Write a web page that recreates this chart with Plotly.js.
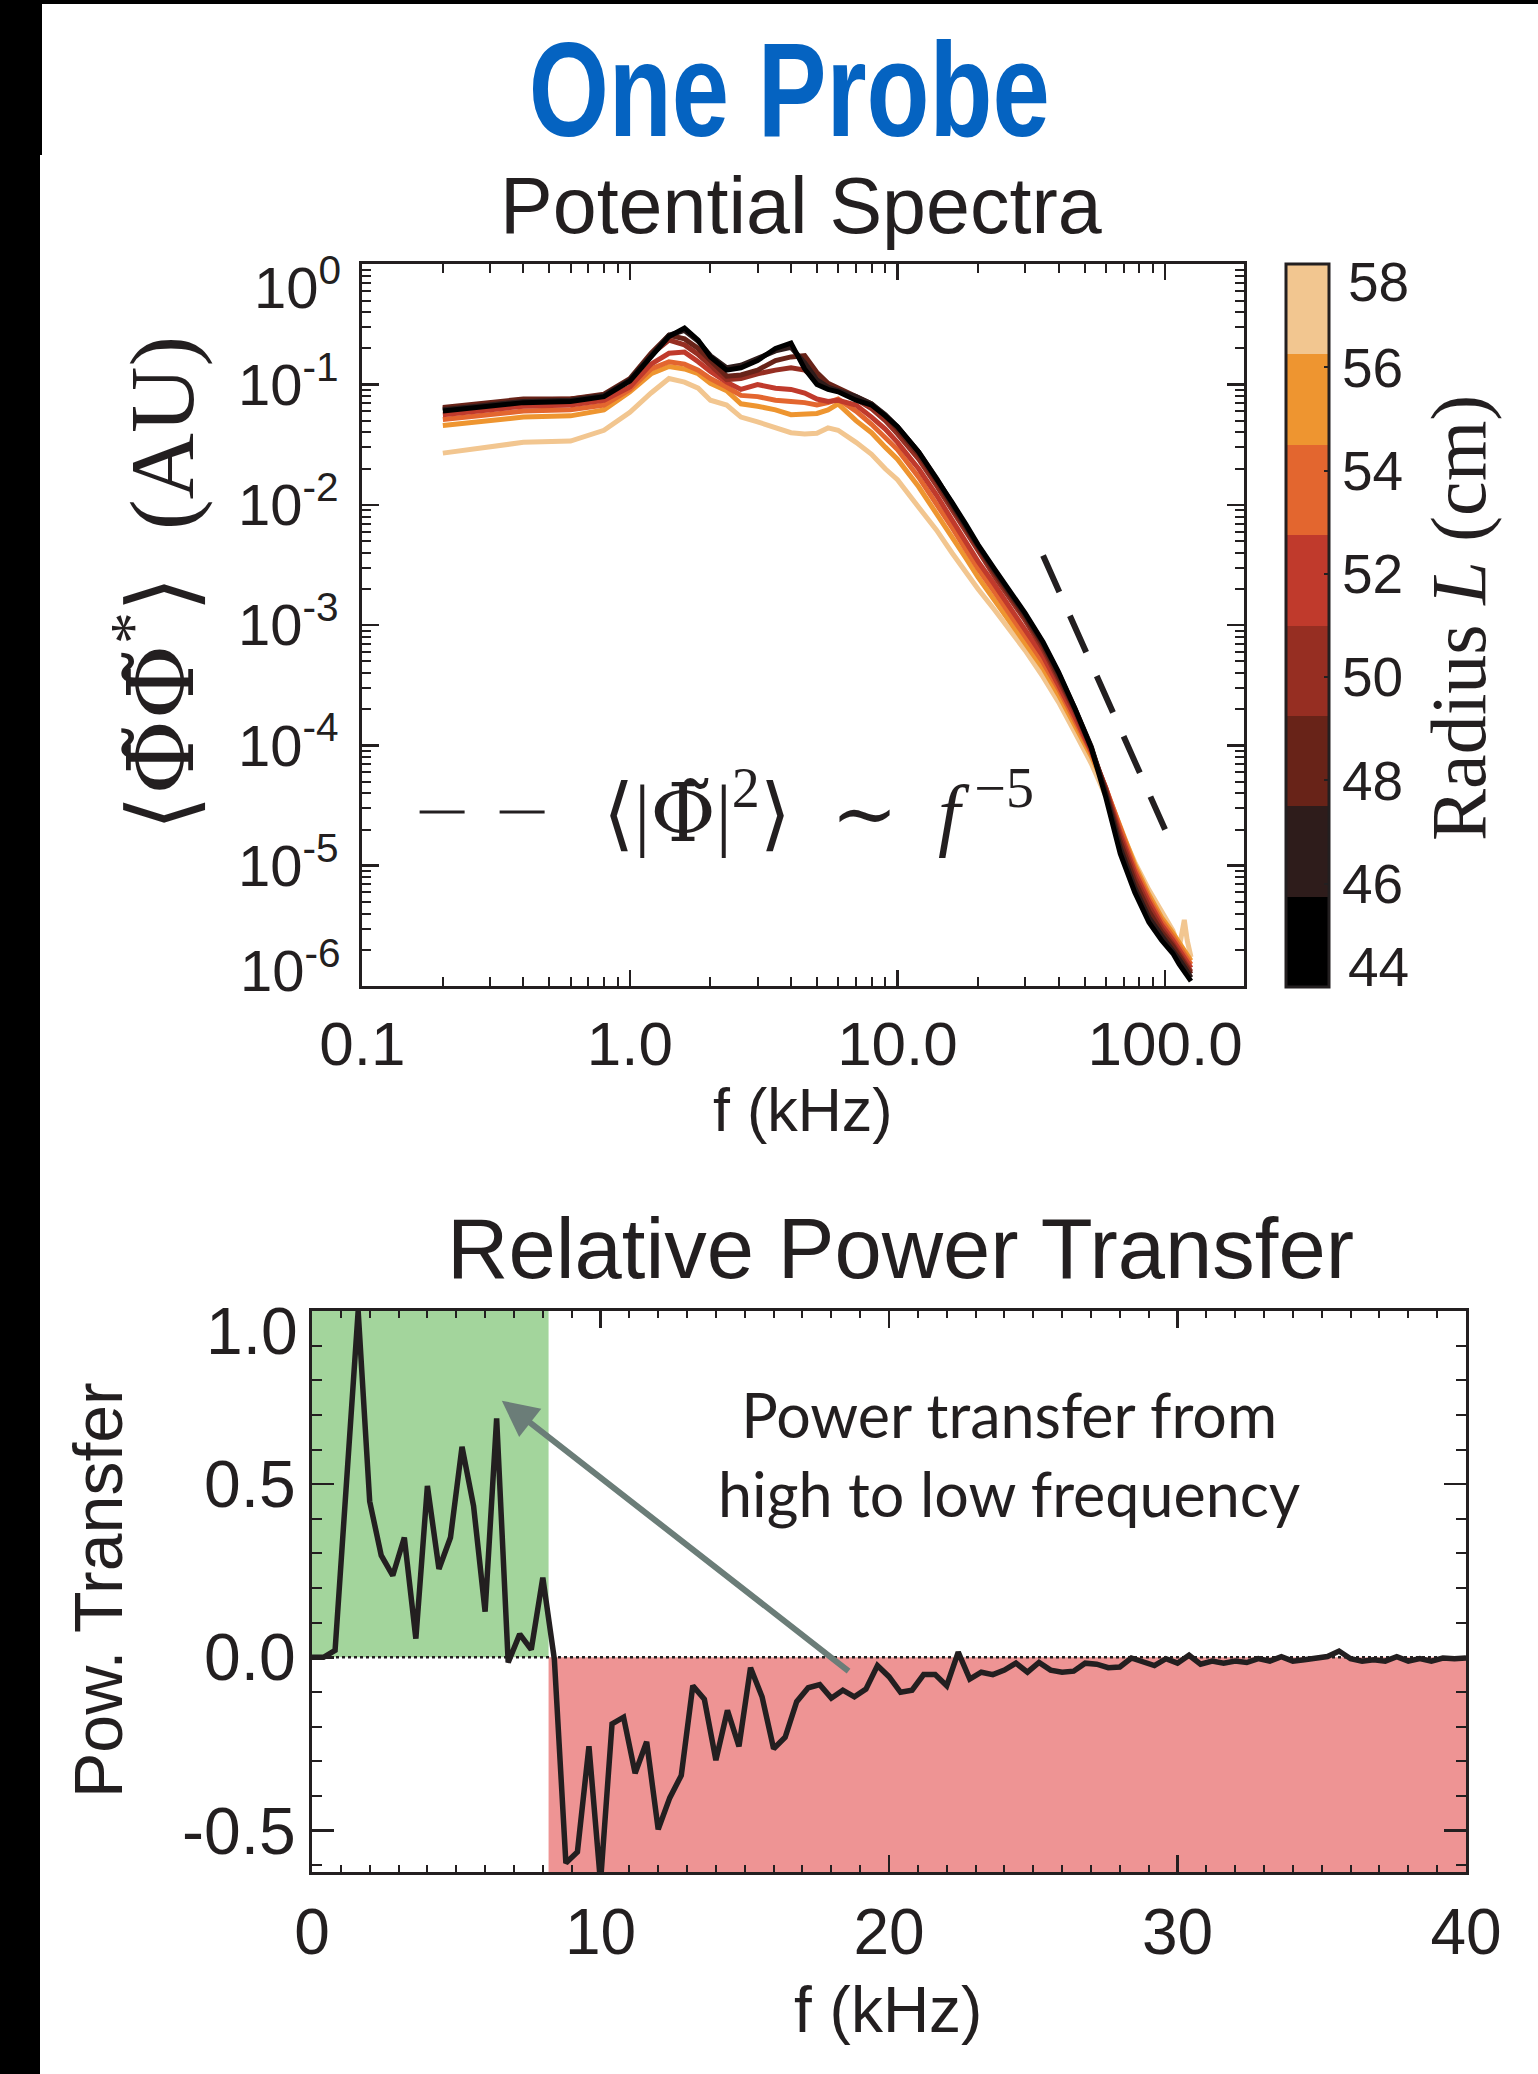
<!DOCTYPE html>
<html><head><meta charset="utf-8">
<script src="https://cdn.plot.ly/plotly-3.0.1.min.js"></script>
<style>html,body{margin:0;padding:0;background:#fff;overflow:hidden}#chart{width:1538px;height:2074px}</style>
</head><body><div id="chart"></div>
<script>
// ---------- DATA ----------
// Potential spectra: frequency grid (kHz)
const freqKHz = [0.2, 0.4, 0.6, 0.8, 1.0, 1.2, 1.4, 1.6, 1.8, 2.0, 2.3, 2.6, 3.0, 3.5, 4.0, 4.5, 5.0, 5.5, 6.0, 7.0, 8.0, 9.0, 10, 12, 14, 16, 18, 20, 23, 26, 30, 35, 40, 46, 53, 60, 68, 77, 87, 97, 107, 113, 118, 121, 125];
// log10 of spectral power (AU) for each radius L (cm)
const log10Power44 = [-1.22,-1.15,-1.14,-1.10,-0.97,-0.77,-0.60,-0.53,-0.63,-0.77,-0.88,-0.86,-0.80,-0.70,-0.655,-0.87,-1.00,-1.04,-1.06,-1.13,-1.17,-1.26,-1.35,-1.56,-1.78,-1.98,-2.16,-2.33,-2.53,-2.70,-2.90,-3.14,-3.39,-3.69,-4.02,-4.43,-4.90,-5.22,-5.47,-5.62,-5.73,-5.82,-5.88,-5.92,-5.96];
const log10Power46 = [-1.21,-1.14,-1.13,-1.09,-0.96,-0.76,-0.59,-0.55,-0.64,-0.76,-0.86,-0.84,-0.78,-0.72,-0.69,-0.82,-0.96,-1.02,-1.05,-1.10,-1.16,-1.25,-1.35,-1.56,-1.78,-1.99,-2.17,-2.34,-2.54,-2.71,-2.91,-3.15,-3.40,-3.69,-4.01,-4.40,-4.85,-5.18,-5.43,-5.58,-5.70,-5.78,-5.84,-5.88,-5.93];
const log10Power48 = [-1.19,-1.12,-1.12,-1.08,-0.95,-0.74,-0.59,-0.62,-0.70,-0.80,-0.93,-0.92,-0.88,-0.80,-0.77,-0.76,-0.90,-0.99,-1.03,-1.09,-1.16,-1.26,-1.37,-1.58,-1.80,-2.01,-2.19,-2.36,-2.56,-2.73,-2.93,-3.17,-3.42,-3.70,-4.02,-4.38,-4.80,-5.13,-5.38,-5.55,-5.67,-5.75,-5.81,-5.85,-5.90];
const log10Power50 = [-1.20,-1.13,-1.12,-1.09,-0.96,-0.75,-0.63,-0.67,-0.75,-0.84,-0.96,-0.95,-0.91,-0.88,-0.86,-0.88,-0.96,-1.02,-1.045,-1.12,-1.20,-1.30,-1.41,-1.62,-1.84,-2.04,-2.22,-2.39,-2.59,-2.76,-2.96,-3.20,-3.45,-3.72,-4.03,-4.36,-4.76,-5.09,-5.34,-5.52,-5.65,-5.73,-5.79,-5.83,-5.88];
const log10Power52 = [-1.25,-1.18,-1.17,-1.13,-1.02,-0.83,-0.74,-0.73,-0.81,-0.89,-0.98,-1.04,-1.00,-1.03,-1.04,-1.07,-1.12,-1.14,-1.13,-1.17,-1.27,-1.37,-1.48,-1.70,-1.92,-2.12,-2.30,-2.47,-2.66,-2.83,-3.03,-3.26,-3.50,-3.76,-4.05,-4.35,-4.73,-5.05,-5.30,-5.49,-5.62,-5.70,-5.76,-5.80,-5.85];
const log10Power54 = [-1.29,-1.22,-1.21,-1.17,-1.04,-0.87,-0.81,-0.83,-0.88,-0.95,-1.02,-1.09,-1.10,-1.13,-1.14,-1.15,-1.17,-1.15,-1.12,-1.22,-1.33,-1.44,-1.54,-1.77,-1.99,-2.19,-2.37,-2.53,-2.72,-2.89,-3.08,-3.31,-3.53,-3.79,-4.06,-4.35,-4.70,-5.02,-5.27,-5.46,-5.59,-5.67,-5.73,-5.77,-5.82];
const log10Power56 = [-1.34,-1.27,-1.26,-1.21,-1.06,-0.91,-0.85,-0.87,-0.91,-0.99,-1.05,-1.16,-1.18,-1.21,-1.25,-1.24,-1.24,-1.21,-1.16,-1.30,-1.40,-1.52,-1.62,-1.85,-2.07,-2.27,-2.44,-2.60,-2.79,-2.95,-3.14,-3.36,-3.58,-3.83,-4.09,-4.36,-4.68,-4.99,-5.24,-5.43,-5.56,-5.64,-5.70,-5.74,-5.79];
const log10Power58 = [-1.57,-1.48,-1.47,-1.38,-1.23,-1.07,-0.95,-0.98,-1.03,-1.13,-1.17,-1.27,-1.31,-1.36,-1.40,-1.41,-1.405,-1.36,-1.38,-1.48,-1.58,-1.70,-1.79,-2.02,-2.21,-2.40,-2.56,-2.70,-2.87,-3.02,-3.21,-3.43,-3.64,-3.89,-4.15,-4.42,-4.70,-4.97,-5.20,-5.39,-5.54,-5.68,-5.45,-5.62,-5.76];
const radiusCm = [44, 46, 48, 50, 52, 54, 56, 58];
const radiusColors = ['#000000', '#2E1C1B', '#682318', '#962E22', '#C03A2C', '#E3662F', '#EE9530', '#F2C690'];
const radiusTicks = [44, 46, 48, 50, 52, 54, 56, 58];
// f^-5 reference line
const refLineF = [35, 100];
const refLinePower = [3.8e-3, 2.0e-5];
const spectraTickVals = [1e-6, 1e-5, 1e-4, 1e-3, 1e-2, 1e-1, 1e0];
const spectraTickText = ['', '10<sup>-5</sup>', '10<sup>-4</sup>', '10<sup>-3</sup>', '10<sup>-2</sup>', '10<sup>-1</sup>', ''];
const freqTickVals = [0.1, 1, 10, 100];
const freqTickText = ['0.1', '1.0', '10.0', '100.0'];

// Relative power transfer
const transferKHz = [0,0.4,0.8,1.2,1.6,2,2.4,2.8,3.2,3.6,4,4.4,4.8,5.2,5.6,6,6.4,6.8,7.2,7.6,8,8.4,8.8,9.2,9.6,10,10.4,10.8,11.2,11.6,12,12.4,12.8,13.2,13.6,14,14.4,14.8,15.2,15.6,16,16.4,16.8,17.2,17.6,18,18.4,18.8,19.2,19.6,20,20.4,20.8,21.2,21.6,22,22.4,22.8,23.2,23.6,24,24.4,24.8,25.2,25.6,26,26.4,26.8,27.2,27.6,28,28.4,28.8,29.2,29.6,30,30.4,30.8,31.2,31.6,32,32.4,32.8,33.2,33.6,34,34.4,34.8,35.2,35.6,36,36.4,36.8,37.2,37.6,38,38.4,38.8,39.2,39.6,40];
const transferPower = [0.0,0.0,0.02,0.5,1.0,0.45,0.294,0.236,0.346,0.054,0.495,0.255,0.346,0.608,0.437,0.132,0.69,-0.015,0.067,0.022,0.23,
 -0.005,-0.594,-0.562,-0.257,-0.65,-0.192,-0.173,-0.335,-0.244,-0.497,-0.406,-0.341,-0.082,-0.121,-0.297,-0.153,-0.257,-0.03,-0.114,-0.264,
 -0.231,-0.128,-0.088,-0.079,-0.118,-0.095,-0.114,-0.092,-0.024,-0.056,-0.101,-0.095,-0.050,-0.050,-0.082,0.015,-0.063,-0.043,-0.050,-0.037,
 -0.017,-0.043,-0.015,-0.037,-0.043,-0.040,-0.017,-0.020,-0.030,-0.028,-0.002,-0.011,-0.024,-0.004,-0.017,0.006,-0.020,-0.011,-0.017,-0.011,
 -0.015,-0.004,-0.011,0.002,-0.011,-0.007,-0.004,0.002,0.018,-0.004,-0.011,-0.007,-0.011,0.002,-0.011,-0.004,-0.011,-0.002,-0.004,-0.002];
const transferSplitKHz = 8.2;   // boundary between gain (green) and loss (red)
const transferTickVals = [-0.5, 0, 0.5, 1.0];
const transferTickText = ['-0.5', '0.0', '0.5', ''];
const transferXTicks = [0, 10, 20, 30, 40];

// ---------- LAYOUT ----------
const W = 1538, H = 2074;
const px = v => v / W;
const py = v => 1 - v / H;
const INK = '#231F20';
const SANS = 'Liberation Sans, Arial, Helvetica, sans-serif';
const SERIF = 'Liberation Serif, DejaVu Serif, Times New Roman, serif';
const PHI = '<span style="font-family:DejaVu Serif">Φ̃</span>';

const spectra = [log10Power44, log10Power46, log10Power48, log10Power50, log10Power52, log10Power54, log10Power56, log10Power58];

const traces = [];
for (let i = spectra.length - 1; i >= 0; i--) {
  traces.push({
    type: 'scatter', mode: 'lines', xaxis: 'x', yaxis: 'y',
    x: freqKHz, y: spectra[i].map(v => Math.pow(10, v)),
    line: {color: radiusColors[i], width: 5}, hoverinfo: 'skip'
  });
}
traces.push({
  type: 'scatter', mode: 'lines', xaxis: 'x', yaxis: 'y',
  x: refLineF, y: refLinePower,
  line: {color: INK, width: 6, dash: '40px,26px'}, hoverinfo: 'skip'
});
// colour bar carrier (invisible markers at the spectra start points)
const cs = [];
radiusColors.forEach((c, i) => { cs.push([i / 8, c]); cs.push([(i + 1) / 8, c]); });
traces.push({
  type: 'scatter', mode: 'markers', xaxis: 'x', yaxis: 'y',
  x: radiusCm.map(() => freqKHz[0]), y: spectra.map(s => Math.pow(10, s[0])),
  marker: {
    color: radiusCm, colorscale: cs, cmin: 44, cmax: 58, opacity: 0, size: 2, showscale: true,
    colorbar: {
      x: px(1286), xanchor: 'left', xpad: 0, ypad: 0,
      y: py(625.5), yanchor: 'middle',
      len: 723, lenmode: 'pixels', thickness: 43, thicknessmode: 'pixels',
      outlinewidth: 3, outlinecolor: INK,
      tickmode: 'array', tickvals: [46, 48, 50, 52, 54, 56], ticktext: ['46', '48', '50', '52', '54', '56'],
      ticks: 'inside', ticklen: 6, tickwidth: 2, tickcolor: INK,
      tickfont: {family: SANS, size: 55, color: INK}
    }
  },
  hoverinfo: 'skip'
});
// power transfer line
traces.push({
  type: 'scatter', mode: 'lines', xaxis: 'x2', yaxis: 'y2',
  x: transferKHz, y: transferPower,
  line: {color: INK, width: 5.5}, hoverinfo: 'skip'
});

const axisCommon = {
  showline: true, linewidth: 3, linecolor: INK, mirror: 'ticks',
  ticks: 'inside', tickcolor: INK, tickwidth: 2.5,
  showgrid: false, zeroline: false
};

const layout = {
  width: W, height: H, margin: {l: 0, r: 0, t: 0, b: 0},
  paper_bgcolor: '#ffffff', plot_bgcolor: 'rgba(0,0,0,0)', showlegend: false,
  font: {family: SANS, color: INK},
  xaxis: Object.assign({}, axisCommon, {
    domain: [px(362.3), px(1244)], anchor: 'y', type: 'log', range: [-1, 2.295],
    tickmode: 'array', tickvals: freqTickVals, ticktext: freqTickText, ticklen: 16,
    tickfont: {family: SANS, size: 62, color: INK}, ticklabelstandoff: 2,
    minor: {ticks: 'inside', ticklen: 9, tickwidth: 2, tickcolor: INK, dtick: 'D1', showgrid: false}
  }),
  yaxis: Object.assign({}, axisCommon, {
    domain: [py(986), py(264.3)], anchor: 'x', type: 'log', range: [-6, 0],
    tickmode: 'array', tickvals: spectraTickVals, ticktext: spectraTickText, ticklen: 17,
    tickfont: {family: SANS, size: 58, color: INK}, ticklabelstandoff: 9,
    minor: {ticks: 'inside', ticklen: 9, tickwidth: 2, tickcolor: INK, dtick: 'D1', showgrid: false}
  }),
  xaxis2: Object.assign({}, axisCommon, {
    domain: [px(312), px(1466)], anchor: 'y2', range: [0, 40],
    tickmode: 'array', tickvals: transferXTicks, ticklen: 17,
    tickfont: {family: SANS, size: 64, color: INK}, ticklabelstandoff: 2,
    minor: {ticks: 'inside', ticklen: 7, tickwidth: 2, tickcolor: INK, dtick: 1, tick0: 0, showgrid: false}
  }),
  yaxis2: Object.assign({}, axisCommon, {
    domain: [py(1872), py(1311)], anchor: 'x2', range: [-0.62, 1.0],
    tickmode: 'array', tickvals: transferTickVals, ticktext: transferTickText, ticklen: 22,
    tickfont: {family: SANS, size: 66, color: INK}, ticklabelstandoff: 0,
    minor: {ticks: 'inside', ticklen: 10, tickwidth: 2, tickcolor: INK, dtick: 0.1, tick0: 0, showgrid: false}
  }),
  shapes: [
    {type: 'rect', xref: 'x2', yref: 'y2', x0: 0, x1: transferSplitKHz, y0: 0, y1: 1.0, fillcolor: '#A3D59C', line: {width: 0}, layer: 'below'},
    {type: 'rect', xref: 'x2', yref: 'y2', x0: transferSplitKHz, x1: 40, y0: -0.62, y1: 0, fillcolor: '#EE9494', line: {width: 0}, layer: 'below'},
    {type: 'line', xref: 'x2', yref: 'y2', x0: 0, x1: 40, y0: 0, y1: 0, line: {color: INK, width: 2.5, dash: 'dot'}, layer: 'below'},
    {type: 'line', xref: 'x domain', yref: 'y domain', x0: 0.065, x1: 0.21, y0: 0.241, y1: 0.241, line: {color: INK, width: 3, dash: '45px,35px'}},
    {type: 'rect', xref: 'paper', yref: 'paper', x0: 0, x1: px(40), y0: 0, y1: 1, fillcolor: '#000', line: {width: 0}, layer: 'above'},
    {type: 'rect', xref: 'paper', yref: 'paper', x0: 0, x1: px(42), y0: py(155), y1: 1, fillcolor: '#000', line: {width: 0}, layer: 'above'},
    {type: 'rect', xref: 'paper', yref: 'paper', x0: 0, x1: 1, y0: py(4), y1: 1, fillcolor: '#000', line: {width: 0}, layer: 'above'}
  ],
  annotations: [
    {xref: 'paper', yref: 'paper', x: px(789), y: py(89.5), xanchor: 'center', yanchor: 'middle', showarrow: false,
     text: '<b>One Probe</b>', font: {family: SANS, size: 133, color: '#0563C1'}},
    {xref: 'paper', yref: 'paper', x: px(801), y: py(205), xanchor: 'center', yanchor: 'middle', showarrow: false,
     text: 'Potential Spectra', font: {family: SANS, size: 79, color: INK}},
    {xref: 'paper', yref: 'paper', x: px(156), y: py(584), xanchor: 'center', yanchor: 'middle', showarrow: false, textangle: -90,
     text: '⟨' + PHI + PHI + '<sup>*</sup>⟩\u2002(AU)', font: {family: SERIF, size: 92, color: INK}},
    {xref: 'paper', yref: 'paper', x: px(601), y: py(808), xanchor: 'left', yanchor: 'middle', showarrow: false,
     text: '⟨|' + PHI + '|<sup>2</sup>⟩\u2002∼\u2002<i>f</i><sup> −5</sup>', font: {family: SERIF, size: 80, color: INK}},
    {xref: 'paper', yref: 'paper', x: px(1458), y: py(618), xanchor: 'center', yanchor: 'middle', showarrow: false, textangle: -90,
     text: 'Radius <i>L</i> (cm)', font: {family: SERIF, size: 78, color: INK}},
    {xref: 'paper', yref: 'paper', x: px(1346), y: py(282), xanchor: 'left', yanchor: 'middle', showarrow: false,
     text: String(radiusTicks[7]), font: {family: SANS, size: 55, color: INK}},
    {xref: 'paper', yref: 'paper', x: px(1346), y: py(967), xanchor: 'left', yanchor: 'middle', showarrow: false,
     text: String(radiusTicks[0]), font: {family: SANS, size: 55, color: INK}},
    {xref: 'paper', yref: 'paper', x: px(343), y: py(283), xanchor: 'right', yanchor: 'middle', showarrow: false,
     text: '10<sup>0</sup>', font: {family: SANS, size: 58, color: INK}},
    {xref: 'paper', yref: 'paper', x: px(343), y: py(967), xanchor: 'right', yanchor: 'middle', showarrow: false,
     text: '10<sup>-6</sup>', font: {family: SANS, size: 58, color: INK}},
    {xref: 'paper', yref: 'paper', x: px(803), y: py(1110), xanchor: 'center', yanchor: 'middle', showarrow: false,
     text: 'f (kHz)', font: {family: SANS, size: 61, color: INK}},
    {xref: 'paper', yref: 'paper', x: px(900), y: py(1248), xanchor: 'center', yanchor: 'middle', showarrow: false,
     text: 'Relative Power Transfer', font: {family: SANS, size: 85, color: INK}},
    {xref: 'paper', yref: 'paper', x: px(98), y: py(1590), xanchor: 'center', yanchor: 'middle', showarrow: false, textangle: -90,
     text: 'Pow. Transfer', font: {family: SANS, size: 68, color: INK}},
    {xref: 'paper', yref: 'paper', x: px(300), y: py(1331), xanchor: 'right', yanchor: 'middle', showarrow: false,
     text: '1.0', font: {family: SANS, size: 66, color: INK}},
    {xref: 'paper', yref: 'paper', x: px(888), y: py(2010), xanchor: 'center', yanchor: 'middle', showarrow: false,
     text: 'f (kHz)', font: {family: SANS, size: 64, color: INK}},
    {xref: 'x2', yref: 'y2', x: 6.58, y: 0.741, axref: 'x2', ayref: 'y2', ax: 18.65, ay: -0.043,
     showarrow: true, arrowhead: 2, arrowsize: 1.2, arrowwidth: 6, arrowcolor: '#6B7D78', standoff: 0, text: ''},
    {xref: 'x2', yref: 'y2', x: 24.16, y: 0.586, xanchor: 'center', yanchor: 'middle', showarrow: false,
     text: 'Power transfer from<br>high to low frequency', font: {family: 'Lato, Open Sans, sans-serif', size: 61, color: INK}}
  ]
};

Plotly.newPlot('chart', traces, layout, {staticPlot: true, displayModeBar: false}).then(gd => {
  // condensed heading face: narrow the bold title horizontally about its centre
  gd.querySelectorAll('.annotation-text').forEach(t => {
    if (t.textContent === 'One Probe') {
      const bb = t.getBBox();
      const cx = bb.x + bb.width / 2;
      t.setAttribute('transform', 'translate(' + cx + ' 0) scale(0.775 1) translate(' + (-cx) + ' 0)');
    }
  });
});
</script></body></html>
